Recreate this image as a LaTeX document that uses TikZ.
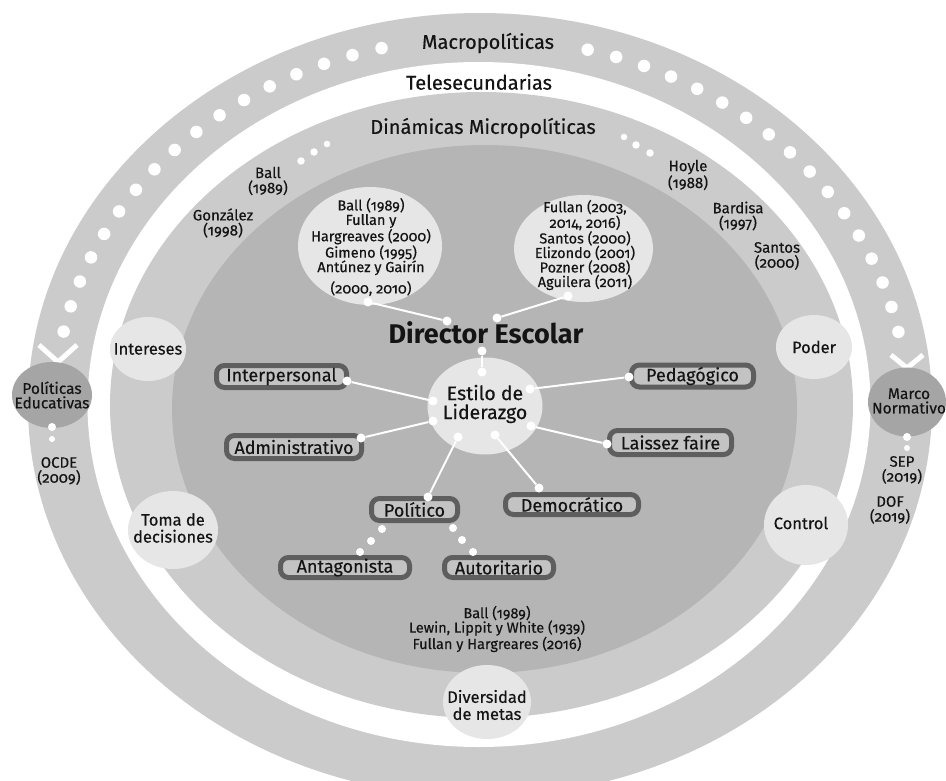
\documentclass[tikz,border=0pt]{standalone}
\usepackage{fontspec}
\setmainfont{Fira Sans}[Numbers=OldStyle, UprightFeatures={FakeBold=0.35}]
\usetikzlibrary{shapes.geometric}
\definecolor{cRing}{HTML}{CBCBCB}
\definecolor{cCore}{HTML}{B5B5B5}
\definecolor{cBubble}{HTML}{E6E6E6}
\definecolor{cDark}{HTML}{A5A5A5}
\definecolor{cBorder}{HTML}{5E5E5E}
\definecolor{cBoxFill}{HTML}{C3C3C3}
\definecolor{cText}{HTML}{141414}
\begin{document}
\begin{tikzpicture}[x=1pt,y=-1pt,
  every node/.style={text=cText, inner sep=0pt},
  ringlabel/.style={font=\fontsize{20}{22}\selectfont},
  reflabel/.style={font=\fontsize{15}{15}\selectfont, align=center},
  circtext/.style={font=\fontsize{14.5}{14.5}\selectfont, align=center},
  bubble/.style={ellipse, fill=cBubble, inner sep=0pt},
  bigbubble/.style={ellipse, fill=cDark, inner sep=0pt},
  bubtext/.style={font=\fontsize{16.5}{17}\selectfont, align=center},
  stylebox/.style={draw=cBorder, line width=5pt, fill=cBoxFill, rounded corners=8pt, minimum height=22pt, font=\fontsize{18}{18}\selectfont},
  dot/.style={circle, fill=white, inner sep=0pt, minimum size=9pt},
  ringdot/.style={circle, fill=white, inner sep=0pt, minimum size=12.5pt},
  tinydot/.style={circle, fill=white, inner sep=0pt, minimum size=7.5pt},
  conn/.style={white, line width=2pt},
  chevron/.style={white, line width=5pt}]
\useasboundingbox (0,0) rectangle (946,781);
\clip (0,0) rectangle (946,781);
\fill[white] (0,0) rectangle (946,781);

% rings
\fill[cRing] (480,405) ellipse [x radius=452, y radius=392];
\fill[white] (479,404.5) ellipse [x radius=391.5, y radius=342.5];
\fill[cRing] (481.5,405) ellipse [x radius=371.5, y radius=313];
\fill[cCore] (484.5,409) ellipse [x radius=312.5, y radius=264];

% ring labels
\node[ringlabel] (macro) at (488,43) {Macropolíticas};
\node[ringlabel] (tele) at (479,82) {Telesecundarias};
\node[ringlabel] (dina) at (483,128) {Dinámicas Micropolíticas};

% dots along the outer ring
\foreach \i in {0,...,16} {
  \pgfmathsetmacro\angL{103.5+\i*4.06}
  \pgfmathsetmacro\angR{75.5-\i*4.0}
  \node[ringdot] (lring\i) at ({481+426*cos(\angL)}, {405-367*sin(\angL)}) {};
  \node[ringdot] (rring\i) at ({481+426*cos(\angR)}, {405-367*sin(\angR)}) {};
}

% chevrons
\draw[chevron] (39,345) -- (58,362) -- (77,345);
\draw[chevron] (891,355) -- (907,368) -- (923,355);

% small dots near Dinamicas
\node[tinydot] (sl1) at (301,161) {};
\node[tinydot] (sl2) at (314,152) {};
\node[tinydot, minimum size=6.5pt] (sl3) at (327,144) {};
\node[tinydot, minimum size=6.5pt] (sr1) at (624,137) {};
\node[tinydot] (sr2) at (636,145) {};
\node[tinydot] (sr3) at (650,153) {};

% outer references
\node[reflabel] (rBall) at (268,181) {Ball\\(1989)};
\node[reflabel] (rGonz) at (223,223) {González\\(1998)};
\node[reflabel] (rHoyle) at (688,175) {Hoyle\\(1988)};
\node[reflabel] (rBard) at (738,216) {Bardisa\\(1997)};
\node[reflabel] (rSant) at (777,256) {Santos\\(2000)};

% side big bubbles
\node[bigbubble, minimum width=80, minimum height=66] (pe) at (52,395) {};
\node[font=\fontsize{15.5}{14.5}\selectfont, align=center] (peT) at (52,395) {Políticas\\Educativas};
\node[bigbubble, minimum width=78, minimum height=69] (mn) at (907,402) {};
\node[font=\fontsize{15.5}{14.5}\selectfont, align=center] (mnT) at (909,401) {Marco\\Normativo};
\node[tinydot, minimum size=8pt] (pd1) at (52,427) {};
\node[tinydot, minimum size=6pt] (pd2) at (52,439) {};
\node[tinydot, minimum size=8pt] (md1) at (907,437) {};
\node[tinydot, minimum size=6pt] (md2) at (907,448) {};
\node[reflabel] (rOCDE) at (59,471) {OCDE\\(2009)};
\node[reflabel] (rSEP) at (902,470) {SEP\\(2019)};
\node[reflabel] (rDOF) at (890,510) {DOF\\(2019)};

% micropolitics bubbles
\node[bubble, minimum width=76, minimum height=64] (intereses) at (148,349) {};
\node[bubtext] (interesesT) at (148,349) {Intereses};
\node[bubble, minimum width=76, minimum height=64] (poder) at (814,347) {};
\node[bubtext] (poderT) at (814,347) {Poder};
\node[bubble, minimum width=90, minimum height=78] (toma) at (173,530) {};
\node[bubtext] (tomaT) at (173,528) {Toma de\\decisiones};
\node[bubble, minimum width=84, minimum height=80] (control) at (806,525) {};
\node[bubtext] (controlT) at (801,523) {Control};
\node[bubble, minimum width=88, minimum height=74] (divers) at (487,702) {};
\node[bubtext] (diversT) at (487,705) {Diversidad\\de metas};

% reference circles
\node[bubble, minimum width=144, minimum height=118] (lref) at (370,246) {};
\node[circtext] (lrefT) at (371,247) {Ball (1989)\\Fullan y\\Hargreaves (2000)\\Gimeno (1995)\\Antúnez y Gairín\\[5pt](2000, 2010)};
\node[bubble, minimum width=139, minimum height=107] (rref) at (583.5,248.5) {};
\node[circtext] (rrefT) at (585,245) {Fullan (2003,\\2014, 2016)\\Santos (2000)\\Elizondo (2001)\\Pozner (2008)\\Aguilera (2011)};

% director
\node[font=\bfseries\fontsize{27}{27}\selectfont] (dir) at (486,333) {Director Escolar};

% estilo
\node[bubble, minimum width=115, minimum height=97] (estilo) at (485,406) {};
\node[font=\fontsize{19.5}{19}\selectfont, align=center] (estiloT) at (485,404) {Estilo de\\Liderazgo};

% style boxes
\node[stylebox, minimum width=130] (inter) at (281.5,376.5) {Interpersonal};
\node[stylebox, minimum width=122] (peda) at (692.5,376) {Pedagógico};
\node[stylebox, minimum width=135, minimum height=23] (admin) at (294,447) {Administrativo};
\node[stylebox, minimum width=122, minimum height=24] (laiss) at (670.5,442.5) {Laissez faire};
\node[stylebox, minimum width=86] (poli) at (414.5,509.5) {Político};
\node[stylebox, minimum width=133, minimum height=20] (demo) at (572,504.5) {Democrático};
\node[stylebox, minimum width=129, minimum height=20] (antag) at (345,567.5) {Antagonista};
\node[stylebox, minimum width=109, minimum height=20] (autor) at (499,567.5) {Autoritario};

% connector dots
\node[dot] (dL1) at (368,302) {};
\node[dot] (dL2) at (447,321) {};
\node[dot] (dR1) at (568,296) {};
\node[dot] (dR2) at (497,318) {};
\node[dot] (dD) at (482,351) {};
\node[dot] (eT) at (482,372) {};
\node[dot] (eUR) at (530,389) {};
\node[dot] (eL) at (433,401) {};
\node[dot] (eLL) at (433,421) {};
\node[dot] (eLR) at (531,426) {};
\node[dot] (eBL) at (458,437) {};
\node[dot] (eBR) at (495,435) {};
\node[dot] (bInt) at (347,381) {};
\node[dot] (bPed) at (629,377) {};
\node[dot] (bAdm) at (361,438) {};
\node[dot] (bLai) at (607,444) {};
\node[dot] (bPol) at (428,497) {};
\node[dot] (bDem) at (539,488) {};

\draw[conn] (dL1) -- (dL2);
\draw[conn] (dR1) -- (dR2);
\draw[conn] (dD) -- (eT);
\draw[conn] (bInt) -- (eL);
\draw[conn] (bPed) -- (eUR);
\draw[conn] (bAdm) -- (eLL);
\draw[conn] (bLai) -- (eLR);
\draw[conn] (bPol) -- (eBL);
\draw[conn] (bDem) -- (eBR);

% dotted links from Politico
\node[tinydot, minimum size=8pt] (pa1) at (382,529) {};
\node[tinydot, minimum size=8pt] (pa2) at (371,541) {};
\node[tinydot, minimum size=8pt] (pa3) at (360,552) {};
\node[tinydot, minimum size=8pt] (pu1) at (453,528) {};
\node[tinydot, minimum size=8pt] (pu2) at (462,540) {};
\node[tinydot, minimum size=8pt] (pu3) at (473,552) {};

% bottom references
\node[circtext] (bref) at (497,629) {Ball (1989)\\Lewin, Lippit y White (1939)\\Fullan y Hargreares (2016)};
\end{tikzpicture}
\end{document}
